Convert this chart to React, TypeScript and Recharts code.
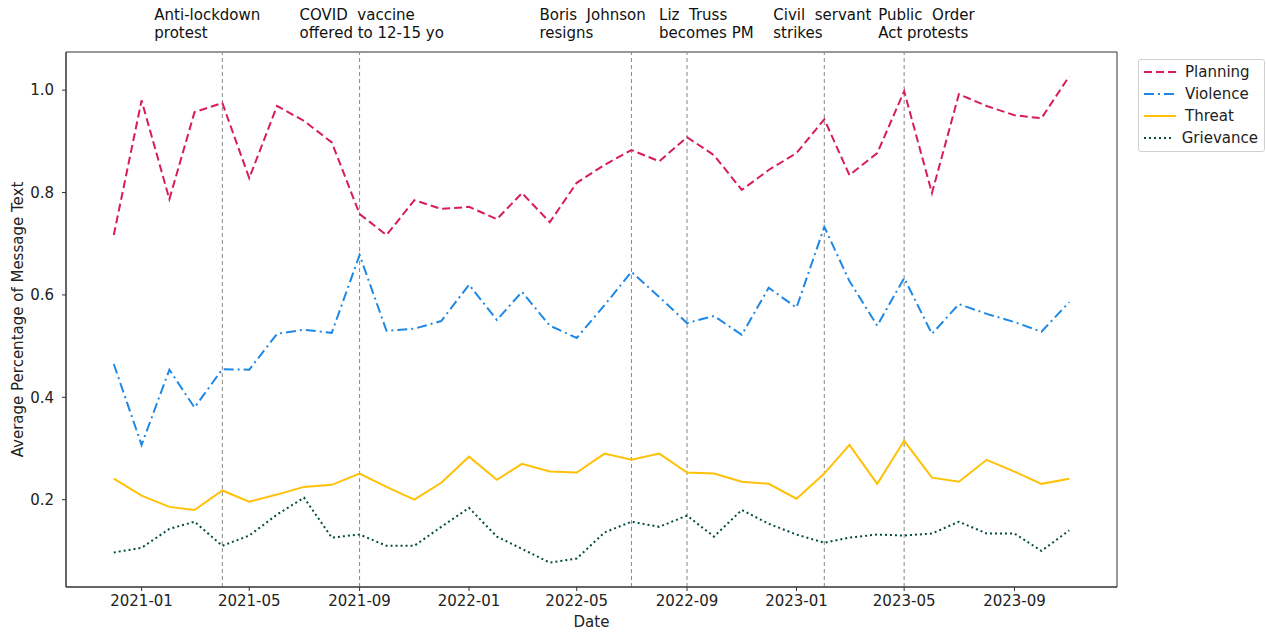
import { LineChart, Line, XAxis, YAxis, ReferenceLine, ReferenceArea, Legend } from "recharts";

const months = [
  "2020-12", "2021-01", "2021-02", "2021-03", "2021-04", "2021-05", "2021-06", "2021-07", "2021-08",
  "2021-09", "2021-10", "2021-11", "2021-12", "2022-01", "2022-02", "2022-03", "2022-04", "2022-05",
  "2022-06", "2022-07", "2022-08", "2022-09", "2022-10", "2022-11", "2022-12", "2023-01", "2023-02",
  "2023-03", "2023-04", "2023-05", "2023-06", "2023-07", "2023-08", "2023-09", "2023-10", "2023-11",
];

const planning = [
  0.717, 0.98, 0.787, 0.957, 0.975, 0.828, 0.969, 0.94, 0.898, 0.758, 0.717, 0.785,
  0.768, 0.772, 0.748, 0.799, 0.742, 0.819, 0.854, 0.883, 0.861, 0.908, 0.873, 0.805,
  0.844, 0.877, 0.943, 0.834, 0.877, 0.998, 0.799, 0.992, 0.969, 0.951, 0.945, 1.027,
];
const violence = [
  0.465, 0.307, 0.454, 0.38, 0.455, 0.454, 0.524, 0.532, 0.526, 0.678, 0.53, 0.534,
  0.549, 0.62, 0.551, 0.606, 0.54, 0.516, 0.58, 0.645, 0.596, 0.545, 0.559, 0.522,
  0.614, 0.575, 0.733, 0.627, 0.54, 0.633, 0.524, 0.582, 0.563, 0.547, 0.528, 0.586,
];
const threat = [
  0.241, 0.208, 0.186, 0.18, 0.218, 0.196, 0.21, 0.225, 0.229, 0.251, 0.225, 0.2,
  0.233, 0.284, 0.239, 0.27, 0.255, 0.253, 0.29, 0.278, 0.29, 0.253, 0.251, 0.235,
  0.231, 0.202, 0.251, 0.307, 0.231, 0.315, 0.243, 0.235, 0.278, 0.255, 0.231, 0.241,
];
const grievance = [
  0.097, 0.106, 0.143, 0.157, 0.11, 0.13, 0.171, 0.204, 0.126, 0.132, 0.11, 0.11,
  0.147, 0.184, 0.128, 0.104, 0.077, 0.085, 0.136, 0.157, 0.147, 0.169, 0.128, 0.18,
  0.153, 0.132, 0.116, 0.126, 0.132, 0.13, 0.134, 0.157, 0.134, 0.134, 0.1, 0.14,
];

const tickMonths = ["2021-01", "2021-05", "2021-09", "2022-01", "2022-05", "2022-09", "2023-01", "2023-05", "2023-09"];
const yTicks = [0.2, 0.4, 0.6, 0.8, 1.0];

const eventMonths = ["2021-04", "2021-09", "2022-07", "2022-09", "2023-02", "2023-05"];
const eventLabels = [
  ["Anti-lockdown", "protest"],
  ["COVID  vaccine", "offered to 12-15 yo"],
  ["Boris  Johnson", "resigns"],
  ["Liz  Truss", "becomes PM"],
  ["Civil  servant", "strikes"],
  ["Public  Order", "Act protests"],
];
// horizontal shift of each annotation relative to its line
const eventShift = [-68, -60, -92, -28, -51, -26];

const series = [
  { key: "planning", name: "Planning", color: "#D81B60", dash: "8 4" },
  { key: "violence", name: "Violence", color: "#1E88E5", dash: "10 4 2 4" },
  { key: "threat", name: "Threat", color: "#FFC107", dash: undefined },
  { key: "grievance", name: "Grievance", color: "#004D40", dash: "2 3" },
];

const toTime = (m: string) => {
  const [y, mo] = m.split("-").map(Number);
  return Date.UTC(y, mo - 1, 1);
};

const data = months.map((m, i) => ({
  t: toTime(m),
  planning: planning[i],
  violence: violence[i],
  threat: threat[i],
  grievance: grievance[i],
}));

const tMin = toTime(months[0]);
const tMax = toTime(months[months.length - 1]);
const xPad = (tMax - tMin) * 0.05;
const allVals = [...planning, ...violence, ...threat, ...grievance];
const vMin = Math.min(...allVals);
const vMax = Math.max(...allVals);
const yPad = (vMax - vMin) * 0.05;
const xDomain = [tMin - xPad, tMax + xPad];
const yDomain = [vMin - yPad, vMax + yPad];

const FONT = "DejaVu Sans, sans-serif";
const tickStyle = { fill: "#222", fontSize: 15, fontFamily: FONT };

const fmtMonth = (t: number) => {
  const d = new Date(t);
  return `${d.getUTCFullYear()}-${String(d.getUTCMonth() + 1).padStart(2, "0")}`;
};

function EventLabel(props: any) {
  const { viewBox, idx } = props;
  if (!viewBox) return null;
  const x = viewBox.x + eventShift[idx];
  return (
    <text x={x} y={viewBox.y - 32} fill="#111" fontSize={15} fontFamily={FONT} style={{ whiteSpace: "pre" }}>
      <tspan x={x} dy="0">{eventLabels[idx][0]}</tspan>
      <tspan x={x} dy="18">{eventLabels[idx][1]}</tspan>
    </text>
  );
}

function YLabel(props: any) {
  const { viewBox } = props;
  const cy = viewBox.y + viewBox.height / 2;
  return (
    <text
      transform={`translate(18, ${cy}) rotate(-90)`}
      textAnchor="middle"
      dominantBaseline="central"
      fill="#222"
      fontSize={15}
      fontFamily={FONT}
    >
      Average Percentage of Message Text
    </text>
  );
}

function LegendBox() {
  return (
    <div
      style={{
        border: "1px solid #d0d0d0",
        borderRadius: 3,
        background: "#fff",
        padding: "1px 6px 2px 5px",
        fontFamily: FONT,
        fontSize: 15,
        color: "#222",
      }}
    >
      {series.map((s) => (
        <div key={s.key} style={{ display: "flex", alignItems: "center", height: 22 }}>
          <svg width={32} height={10} style={{ marginRight: 9 }}>
            <line x1={0} y1={5} x2={32} y2={5} stroke={s.color} strokeWidth={2} strokeDasharray={s.dash} />
          </svg>
          <span>{s.name}</span>
        </div>
      ))}
    </div>
  );
}

export default function App() {
  return (
    <div style={{ position: "absolute", left: 0, top: 0, width: 1266, height: 632, background: "#fff" }}>
      <LineChart width={1266} height={632} data={data} margin={{ top: 52, right: 149, left: 0, bottom: 0 }}>
        <XAxis
          dataKey="t"
          type="number"
          scale="time"
          domain={xDomain}
          ticks={tickMonths.map(toTime)}
          tickFormatter={fmtMonth}
          tick={tickStyle}
          tickSize={4}
          tickMargin={4}
          height={45}
          stroke="#333"
          allowDataOverflow
          label={{ value: "Date", position: "insideBottom", offset: 5, fill: "#222", fontSize: 15, fontFamily: FONT }}
        />
        <YAxis
          type="number"
          domain={yDomain}
          ticks={yTicks}
          tickFormatter={(v: number) => v.toFixed(1)}
          tick={tickStyle}
          tickSize={4}
          tickMargin={8}
          width={66}
          stroke="#333"
          allowDataOverflow
          label={<YLabel />}
        />
        <ReferenceArea
          x1={xDomain[0]}
          x2={xDomain[1]}
          y1={yDomain[0]}
          y2={yDomain[1]}
          fill="none"
          stroke="#333"
          strokeWidth={1}
          ifOverflow="visible"
        />
        {eventMonths.map((m, i) => (
          <ReferenceLine
            key={m}
            x={toTime(m)}
            stroke="#888"
            strokeWidth={1}
            strokeDasharray="4 3"
            label={<EventLabel idx={i} />}
          />
        ))}
        {series.map((s) => (
          <Line
            key={s.key}
            type="linear"
            dataKey={s.key}
            name={s.name}
            stroke={s.color}
            strokeWidth={2}
            strokeDasharray={s.dash}
            dot={false}
            activeDot={false}
            isAnimationActive={false}
          />
        ))}
        <Legend
          layout="vertical"
          align="center"
          verticalAlign="middle"
          content={<LegendBox />}
          wrapperStyle={{ position: "absolute", top: 59, left: 1138, width: 127, right: "auto", bottom: "auto" }}
        />
      </LineChart>
    </div>
  );
}
